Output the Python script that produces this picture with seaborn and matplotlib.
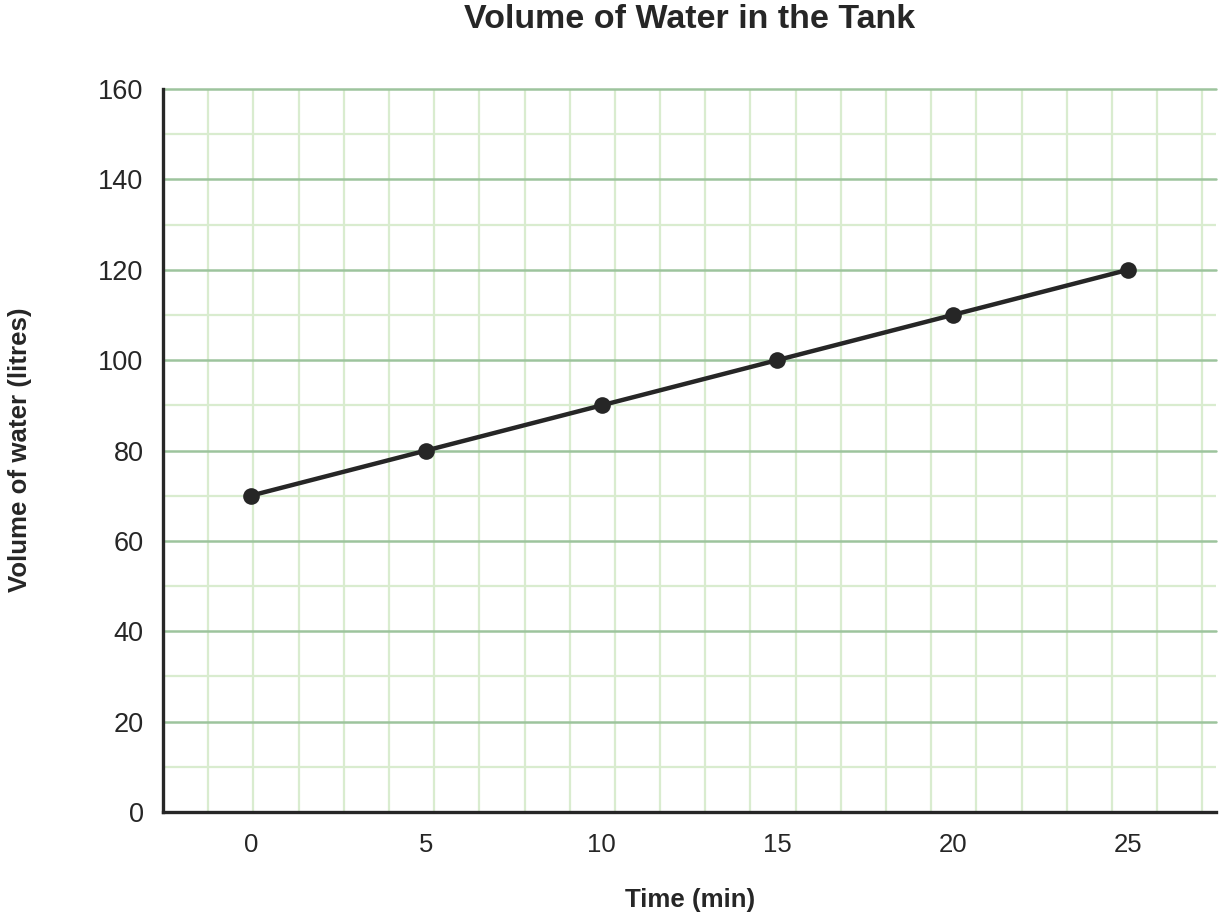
import numpy as np
import pandas as pd
import matplotlib
matplotlib.use("Agg")
import matplotlib.pyplot as plt
import seaborn as sns

# data
time_min = [0, 5, 10, 15, 20, 25]
volume_litres = [70, 80, 90, 100, 110, 120]
y_ticks = [0, 20, 40, 60, 80, 100, 120, 140, 160]

df = pd.DataFrame({"Time (min)": time_min, "Volume": volume_litres})

sns.set_style("white")
plt.rcParams["font.family"] = ["Liberation Sans", "DejaVu Sans"]

W, H = 1224, 922
fig = plt.figure(figsize=(W / 100, H / 100), dpi=100)
ax = fig.add_axes([163 / W, 1 - 812 / H, (1216 - 163) / W, (812 - 89) / H])

dark = "#262626"
major_green = "#9dc49d"
light_green = "#d9eccf"

ax.set_xlim(-2.5, 27.5)
ax.set_ylim(0, 160)

# square grid paper: minor cells of 10 litres, same pixel size across
ax_w = ax.get_position().width * W
ax_h = ax.get_position().height * H
cell_px = ax_h / 16
step_x = cell_px / (ax_w / 30)
k = 1
while -2.5 + k * step_x < 27.5:
    ax.axvline(-2.5 + k * step_x, color=light_green, lw=1.6, zorder=0)
    k += 1
for yv in range(10, 160, 20):
    ax.axhline(yv, color=light_green, lw=1.6, zorder=0)
for yv in y_ticks[1:]:
    ax.axhline(yv, color=major_green, lw=1.8, zorder=1, clip_on=False)

sns.lineplot(data=df, x="Time (min)", y="Volume", ax=ax, color=dark,
             linewidth=3.2, marker="o", markersize=12, markeredgewidth=0, zorder=3)

ax.set_xticks(time_min)
ax.set_yticks(y_ticks)
ax.tick_params(axis="x", length=0, pad=15, labelsize=18.5, labelcolor=dark)
ax.tick_params(axis="y", length=0, pad=14, labelsize=19.5, labelcolor=dark)
ax.set_xlabel("")
ax.set_ylabel("")

for side in ["top", "right"]:
    ax.spines[side].set_visible(False)
for side in ["left", "bottom"]:
    ax.spines[side].set_color(dark)
    ax.spines[side].set_linewidth(2.4)
    ax.spines[side].set_zorder(4)

fig.text(690 / W, 1 - 20 / H, "Volume of Water in the Tank", ha="center", va="center",
         fontsize=24.5, fontweight="bold", color=dark)
fig.text(690 / W, 1 - 900 / H, "Time (min)", ha="center", va="center",
         fontsize=18.6, fontweight="bold", color=dark)
fig.text(20 / W, 1 - 450 / H, "Volume of water (litres)", ha="center", va="center",
         rotation=90, fontsize=18.6, fontweight="bold", color=dark)

fig.savefig("out.png", dpi=100)
